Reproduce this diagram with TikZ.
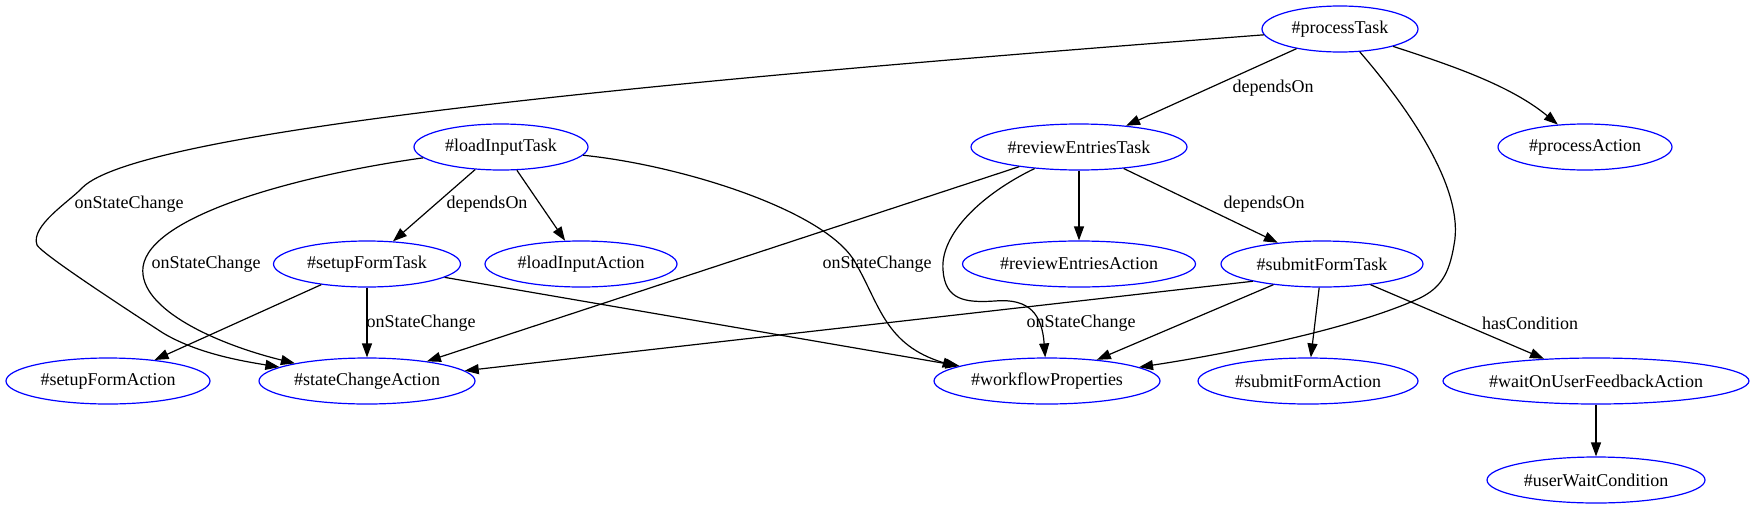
\documentclass[tikz,border=0pt]{standalone}
\usepackage{fontspec}
\setmainfont{Liberation Serif}
\usetikzlibrary{shapes.geometric,arrows.meta}
\begin{document}
\begin{tikzpicture}[x=1pt,y=-1pt,
  gnode/.style={ellipse,draw=blue,line width=1.2pt,minimum height=46pt,inner sep=0pt,font=\fontsize{18}{20}\selectfont},
  edge/.style={draw=black,line width=1.2pt,-{Triangle[length=14pt,width=10pt]}},
  elabel/.style={font=\fontsize{18}{20}\selectfont,inner sep=0pt}]
\useasboundingbox (0,0) rectangle (1756,509);
% nodes
\node[gnode,minimum width=156pt] (pT)  at (1340,29)  {\#processTask};
\node[gnode,minimum width=216pt] (rET) at (1079,147) {\#reviewEntriesTask};
\node[gnode,minimum width=174pt] (pA)  at (1585,147) {\#processAction};
\node[gnode,minimum width=174pt] (lIT) at (501,147)  {\#loadInputTask};
\node[gnode,minimum width=187pt] (sFT) at (367,264)  {\#setupFormTask};
\node[gnode,minimum width=192pt] (lIA) at (581,264)  {\#loadInputAction};
\node[gnode,minimum width=233pt] (rEA) at (1079,264) {\#reviewEntriesAction};
\node[gnode,minimum width=202pt] (sbT) at (1322,264) {\#submitFormTask};
\node[gnode,minimum width=204pt] (sFA) at (108,381)  {\#setupFormAction};
\node[gnode,minimum width=216pt] (sCA) at (367,381)  {\#stateChangeAction};
\node[gnode,minimum width=226pt] (wP)  at (1047,381) {\#workflowProperties};
\node[gnode,minimum width=220pt] (sbA) at (1308,381) {\#submitFormAction};
\node[gnode,minimum width=306pt] (wUF) at (1596,381) {\#waitOnUserFeedbackAction};
\node[gnode,minimum width=218pt] (uWC) at (1596,480) {\#userWaitCondition};
% labels
\node[elabel] (l1) at (1273,88)  {dependsOn};
\node[elabel] (l2) at (487,204)  {dependsOn};
\node[elabel] (l3) at (1264,204) {dependsOn};
\node[elabel] (l4) at (1530,323) {hasCondition};
\node[elabel] (l5) at (129,204)  {onStateChange};
\node[elabel] (l6) at (206,264)  {onStateChange};
\node[elabel] (l7) at (421,323)  {onStateChange};
\node[elabel] (l8) at (877,264)  {onStateChange};
\node[elabel] (l9) at (1081,323) {onStateChange};
% edges
\draw[edge] (pT) .. controls (700,78) and (140,128) .. (82,188)
  .. controls (70,201) and (30,226) .. (37,245)
  .. controls (42,254) and (120,305) .. (163,333)
  .. controls (195,352) and (235,360) .. (sCA);
\draw[edge] (pT) -- (rET);
\draw[edge] (pT) .. controls (1450,65) and (1510,85) .. (pA);
\draw[edge] (pT) .. controls (1410,110) and (1465,190) .. (1454,245)
  .. controls (1449,275) and (1440,288) .. (1420,298)
  .. controls (1350,330) and (1220,355) .. (wP);
\draw[edge] (lIT) .. controls (300,175) and (150,215) .. (143,267)
  .. controls (138,310) and (220,345) .. (sCA);
\draw[edge] (lIT) -- (sFT);
\draw[edge] (lIT) -- (lIA);
\draw[edge] (lIT) .. controls (680,165) and (825,210) .. (855,262)
  .. controls (880,305) and (885,345) .. (wP.171);
\draw[edge] (sFT) -- (sFA);
\draw[edge] (sFT) -- (sCA);
\draw[edge] (sFT) -- (wP);
\draw[edge] (rET) -- (sCA);
\draw[edge] (rET) .. controls (980,195) and (940,235) .. (943,270)
  .. controls (945,300) and (965,303) .. (995,301)
  .. controls (1030,298) and (1042,315) .. (wP);
\draw[edge] (rET) -- (rEA);
\draw[edge] (rET) -- (sbT);
\draw[edge] (sbT.194) -- (sCA.6);
\draw[edge] (sbT) -- (wP);
\draw[edge] (sbT) -- (sbA);
\draw[edge] (sbT) -- (wUF);
\draw[edge] (wUF) -- (uWC);
\end{tikzpicture}
\end{document}
